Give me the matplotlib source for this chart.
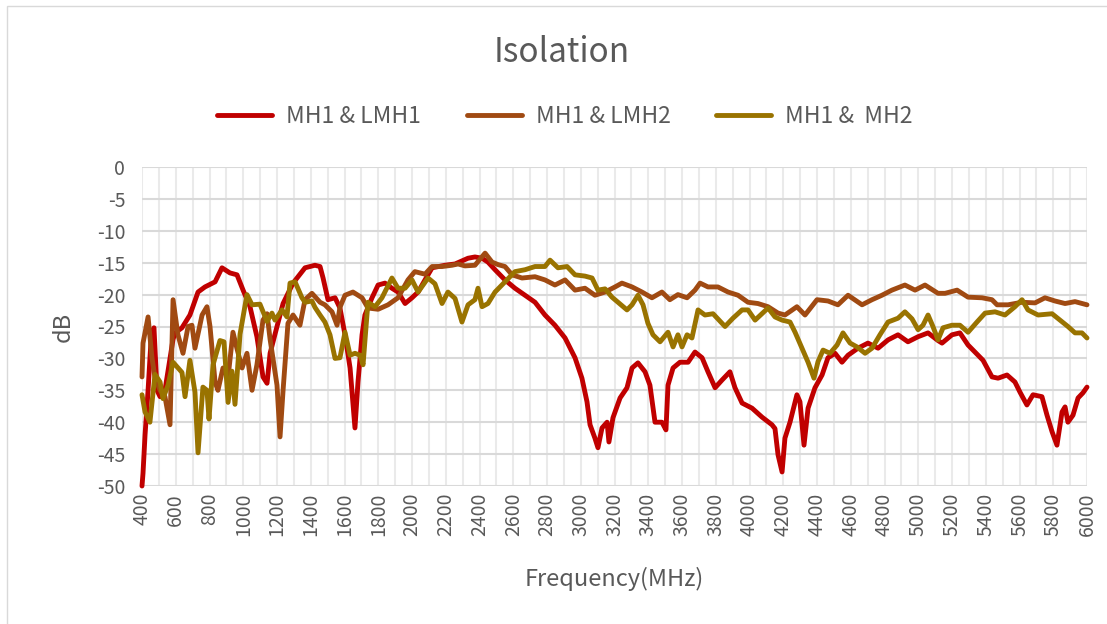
import matplotlib
matplotlib.use("Agg")
import matplotlib.pyplot as plt
from matplotlib.patches import Rectangle

plt.rcParams['font.family'] = ['Noto Sans CJK SC', 'DejaVu Sans']

# ---- data (frequency in MHz, isolation in dB) ----
f_lmh1 = [400, 406, 418, 436, 456, 471, 489, 507, 536, 554, 584, 596, 637, 684, 732, 773,
          833, 874, 921, 963, 999, 1040, 1081, 1117, 1141, 1159, 1200, 1236, 1295, 1366,
          1425, 1455, 1473, 1502, 1544, 1573, 1603, 1633, 1662, 1680, 1704, 1721, 1763,
          1799, 1840, 1881, 1917, 1959, 2000, 2036, 2077, 2119, 2196, 2255, 2332, 2373,
          2415, 2450, 2492, 2551, 2610, 2670, 2729, 2788, 2847, 2907, 2966, 3007, 3037,
          3055, 3084, 3102, 3126, 3156, 3167, 3191, 3233, 3274, 3304, 3339, 3381, 3410,
          3440, 3481, 3505, 3517, 3547, 3588, 3636, 3677, 3719, 3754, 3796, 3837, 3884,
          3914, 3956, 4015, 4074, 4133, 4151, 4169, 4193, 4210, 4240, 4281, 4299, 4323,
          4347, 4388, 4430, 4465, 4507, 4548, 4584, 4643, 4702, 4762, 4821, 4880, 4939,
          4999, 5058, 5117, 5141, 5200, 5247, 5295, 5336, 5384, 5437, 5473, 5526, 5573,
          5603, 5644, 5680, 5733, 5763, 5793, 5822, 5852, 5870, 5887, 5917, 5947, 5976, 6000]
db_lmh1 = [-50, -48, -42, -35, -26, -25.2, -35, -36, -35, -32, -27, -26, -25.2, -23.2, -19.6,
           -18.8, -18, -15.8, -16.6, -16.9, -19.3, -21.9, -26.6, -32.9, -33.9, -29.2, -25,
           -21.4, -18.2, -15.8, -15.4, -15.6, -17.4, -20.8, -20.5, -22.1, -26.3, -31.5, -40.9,
           -33.7, -26.3, -23.2, -20.5, -18.5, -18.2, -19, -19.6, -21.4, -20.5, -19.6, -17.7,
           -15.8, -15.4, -15.2, -14.3, -14.1, -14.3, -14.9, -16.1, -17.7, -19, -20.1, -21.2,
           -23.2, -24.8, -26.8, -29.9, -33.1, -36.8, -40.4, -42.5, -44, -40.9, -40, -43.1,
           -39.3, -36.2, -34.6, -31.5, -30.7, -32.1, -34.2, -40, -40, -41.2, -34.2, -31.5,
           -30.6, -30.6, -29, -29.9, -32.1, -34.6, -33.4, -32.1, -34.6, -37, -37.8, -39.2,
           -40.4, -41, -45.1, -47.8, -42.5, -40, -35.7, -36.8, -43.6, -37.8, -34.6, -32.6,
           -29.9, -29.2, -30.6, -29.5, -28.4, -27.6, -28.4, -27.1, -26.3, -27.4, -26.6, -26,
           -27.2, -27.6, -26.3, -26, -27.9, -29, -30.3, -32.9, -33.1, -32.6, -33.7, -35.3,
           -37.3, -35.7, -36, -38.9, -41.5, -43.6, -38.4, -37.6, -40, -38.9, -36.2, -35.4,
           -34.5]

f_lmh2 = [400, 406, 436, 459, 477, 507, 536, 566, 584, 613, 643, 673, 696, 714, 756, 785,
          803, 833, 850, 880, 910, 939, 963, 993, 1022, 1052, 1081, 1117, 1141, 1159, 1200,
          1218, 1236, 1265, 1295, 1336, 1366, 1407, 1455, 1484, 1526, 1556, 1573, 1603,
          1650, 1704, 1739, 1799, 1858, 1917, 1976, 2017, 2077, 2119, 2178, 2237, 2273,
          2314, 2373, 2433, 2474, 2510, 2551, 2593, 2652, 2729, 2788, 2847, 2907, 2966,
          3025, 3084, 3144, 3203, 3244, 3304, 3363, 3422, 3481, 3528, 3576, 3630, 3677,
          3707, 3754, 3813, 3873, 3932, 3991, 4050, 4110, 4169, 4210, 4281, 4329, 4400,
          4465, 4524, 4584, 4667, 4726, 4785, 4844, 4921, 4981, 5040, 5117, 5159, 5230,
          5295, 5378, 5437, 5467, 5532, 5615, 5692, 5751, 5810, 5870, 5929, 6000]
db_lmh2 = [-32.9, -27.6, -23.5, -29.9, -33, -35, -36, -40.4, -20.8, -26.3, -29.2, -25, -24.8,
           -28.4, -23.2, -21.9, -25, -33.7, -35, -31.5, -33, -25.9, -28.5, -31.5, -29.2, -35,
           -31, -24, -23, -27, -34.2, -42.3, -35, -24.5, -23.2, -24.8, -20.8, -19.8, -21.2,
           -21.6, -22.7, -24.8, -22, -20.1, -19.6, -20.5, -22.1, -22.3, -21.6, -20.5, -17.7,
           -16.4, -16.8, -15.6, -15.6, -15.4, -15.2, -15.5, -15.4, -13.5, -14.9, -15.3,
           -15.6, -16.9, -17.4, -17.2, -17.7, -18.5, -17.7, -19.3, -19, -20.1, -19.6, -18.8,
           -18.2, -18.8, -19.6, -20.5, -19.6, -20.8, -20, -20.5, -19.3, -18.2, -18.8, -18.8,
           -19.6, -20.1, -21.2, -21.4, -21.9, -22.9, -23.2, -21.9, -23.2, -20.8, -21, -21.6,
           -20.1, -21.6, -20.8, -20.1, -19.3, -18.5, -19.3, -18.5, -19.8, -19.8, -19.3,
           -20.4, -20.5, -20.8, -21.6, -21.6, -21.2, -21.3, -20.5, -21, -21.4, -21.1, -21.6]

f_mh2 = [400, 418, 447, 477, 507, 524, 554, 584, 637, 655, 684, 714, 732, 761, 785, 797,
         821, 862, 886, 910, 933, 951, 981, 1022, 1052, 1099, 1141, 1170, 1188, 1230, 1259,
         1277, 1307, 1348, 1366, 1407, 1425, 1455, 1484, 1514, 1544, 1573, 1603, 1633,
         1662, 1692, 1710, 1739, 1781, 1822, 1881, 1917, 1959, 2000, 2036, 2095, 2136,
         2178, 2213, 2255, 2296, 2332, 2373, 2391, 2415, 2450, 2492, 2551, 2610, 2670,
         2729, 2788, 2818, 2865, 2919, 2966, 3025, 3067, 3102, 3144, 3185, 3221, 3274,
         3304, 3339, 3369, 3398, 3428, 3470, 3517, 3547, 3576, 3600, 3630, 3659, 3695,
         3736, 3784, 3855, 3902, 3956, 3991, 4033, 4074, 4110, 4151, 4193, 4240, 4270,
         4311, 4347, 4382, 4406, 4436, 4477, 4519, 4554, 4596, 4637, 4685, 4726, 4773,
         4821, 4880, 4921, 4963, 4999, 5028, 5058, 5087, 5117, 5147, 5200, 5247, 5295,
         5348, 5396, 5455, 5514, 5573, 5615, 5650, 5710, 5793, 5840, 5887, 5929, 5970, 6000]
db_mh2 = [-35.7, -38.4, -40, -32.5, -33.7, -36.3, -34.2, -30.6, -32.2, -36, -30.3, -35.3,
          -44.8, -34.5, -35, -39.5, -31, -27.2, -27.4, -36.9, -32, -37.2, -26.2, -20, -21.6,
          -21.5, -24.2, -22.9, -24, -22.4, -23.5, -18.2, -18, -20.5, -21.2, -21, -22, -23.2,
          -24.3, -26.3, -30, -29.9, -25.9, -29.5, -29.2, -29.5, -31, -21.2, -21.9, -20.5,
          -17.4, -19, -19, -17.7, -19.6, -17.4, -18.3, -21.4, -19.6, -20.6, -24.3, -21.6,
          -20.8, -19, -21.9, -21.4, -19.6, -18, -16.4, -16.1, -15.6, -15.6, -14.6, -15.8,
          -15.6, -16.9, -17.1, -17.4, -19.3, -19.1, -20.4, -21.2, -22.4, -21.6, -20.1,
          -21.6, -24.5, -26.3, -27.4, -25.9, -28.2, -26.3, -28.2, -26.3, -26.8, -22.4,
          -23.2, -23, -25, -23.7, -22.4, -22.4, -24, -23, -22.1, -23.5, -24, -24.3, -25.9,
          -28.4, -30.6, -33.1, -30.5, -28.7, -29.2, -27.9, -26, -27.6, -28.2, -29.2, -28.4,
          -26.3, -24.3, -23.7, -22.7, -23.8, -25.5, -24.8, -23.2, -25, -27.1, -25.2, -24.8,
          -24.8, -25.9, -24.3, -22.9, -22.7, -23.2, -21.9, -20.8, -22.4, -23.2, -23, -24,
          -25, -26, -26, -26.8]

labels = ['MH1 & LMH1', 'MH1 & LMH2', 'MH1 &  MH2']
colors = ['#C00000', '#A04A12', '#997300']
x_ticks = list(range(400, 6001, 200))
y_ticks = list(range(-50, 1, 5))

fig = plt.figure(figsize=(11.07, 6.24), dpi=100)
fig.patches.append(Rectangle((7 / 1107, -0.1), 1.2, 1.09, transform=fig.transFigure,
                             fill=False, edgecolor='#d9d9d9', lw=1))
ax = fig.add_axes([142 / 1107, 1 - 486 / 624, (1087 - 142) / 1107, (486 - 167) / 624])

for f, d, lab, c in zip([f_lmh1, f_lmh2, f_mh2], [db_lmh1, db_lmh2, db_mh2], labels, colors):
    ax.plot(f, d, color=c, lw=3.5, label=lab, solid_joinstyle='round',
            solid_capstyle='round', clip_on=False, zorder=3)

ax.set_xlim(400, 6000)
ax.set_ylim(-50, 0)
ax.set_xticks(x_ticks)
ax.set_xticks(range(500, 6000, 200), minor=True)
ax.set_yticks(y_ticks)
ax.set_xticklabels([str(t) for t in x_ticks], rotation=90, fontsize=14, color='#595959')
ax.set_yticklabels([str(t) for t in y_ticks], fontsize=14, color='#595959')
ax.tick_params(axis='both', which='both', length=0)
ax.tick_params(axis='x', pad=5)
ax.tick_params(axis='y', pad=12)
ax.grid(True, axis='y', color='#d9d9d9', lw=1.5, zorder=0)
ax.grid(True, axis='x', which='both', color='#eaeaea', lw=1.5, zorder=0)
ax.set_axisbelow(True)
for s in ax.spines.values():
    s.set_visible(False)

ax.set_xlabel('Frequency(MHz)', fontsize=17, color='#595959', labelpad=22)
ax.set_ylabel('dB', fontsize=17, color='#595959', labelpad=16)
fig.text(562 / 1107, 1 - 53 / 624, 'Isolation', ha='center', va='center', fontsize=24,
         color='#595959', fontweight='light')
fig.legend(loc='center', bbox_to_anchor=(565 / 1107, 1 - 117 / 624), ncol=3, frameon=False,
           fontsize=16.5, handlelength=2.4, columnspacing=2.0, handletextpad=0.6,
           labelcolor='#595959')

fig.savefig('out.png', dpi=100)
